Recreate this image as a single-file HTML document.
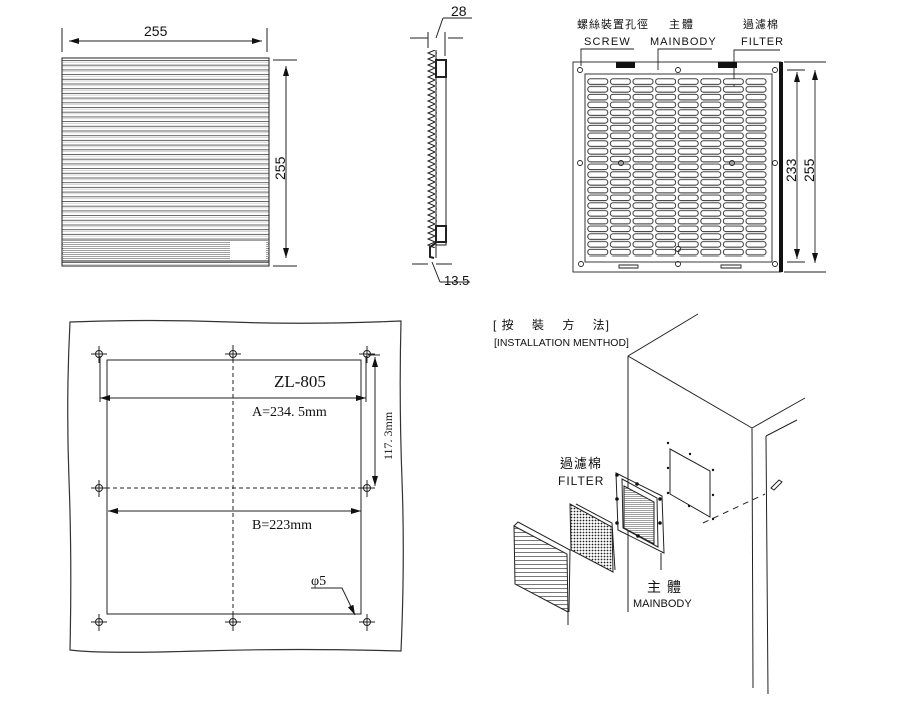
<!DOCTYPE html>
<html><head><meta charset="utf-8"><style>
html,body{margin:0;padding:0;background:#fff;}
svg{display:block;}
text{font-family:"Liberation Sans","Noto Sans CJK TC",sans-serif;fill:#111;}
.s{font-family:"Liberation Serif","Noto Serif CJK SC",serif;}
</style></head><body>
<svg width="904" height="717" viewBox="0 0 904 717" xmlns="http://www.w3.org/2000/svg">
<defs>
<pattern id="stripe" x="0" y="60" width="10" height="4.7" patternUnits="userSpaceOnUse">
<rect width="10" height="4.7" fill="#fff"/><line x1="0" y1="0.5" x2="10" y2="0.5" stroke="#555" stroke-width="0.9"/><line x1="0" y1="2.2" x2="10" y2="2.2" stroke="#bbb" stroke-width="0.6"/></pattern>
<pattern id="fine" x="0" y="0" width="10" height="2" patternUnits="userSpaceOnUse">
<rect width="10" height="2" fill="#fff"/><line x1="0" y1="0.5" x2="10" y2="0.5" stroke="#777" stroke-width="0.7"/></pattern>
<pattern id="grl" x="0" y="0" width="10" height="4" patternUnits="userSpaceOnUse">
<rect width="10" height="4" fill="#fff"/><line x1="0" y1="0.5" x2="10" y2="0.5" stroke="#555" stroke-width="0.8"/></pattern>
<pattern id="slot" x="587" y="78" width="22.6" height="7.75" patternUnits="userSpaceOnUse">
<rect x="0.8" y="0.8" width="20" height="5.6" rx="2.5" fill="#fff" stroke="#222" stroke-width="0.9"/></pattern>
<pattern id="zig" x="427" y="50" width="9" height="6" patternUnits="userSpaceOnUse">
<path d="M8,0 L1,3 L8,6" fill="none" stroke="#222" stroke-width="1"/></pattern>
<pattern id="dots" width="3" height="3" patternUnits="userSpaceOnUse"><rect width="3" height="3" fill="#fff"/><circle cx="1.5" cy="1.5" r="0.9" fill="#222"/></pattern>
<marker id="ar" viewBox="0 0 10 6" refX="10" refY="3" markerWidth="10" markerHeight="6" orient="auto-start-reverse" markerUnits="userSpaceOnUse"><path d="M0,0 L10,3 L0,6z" fill="#111"/></marker>
<g id="h" stroke="#222" fill="none" stroke-width="1"><circle r="3.5"/><line x1="-8" y1="0" x2="8" y2="0"/><line x1="0" y1="-8" x2="0" y2="9"/></g>
</defs>

<!-- TOP LEFT front view -->
<g stroke="#222" fill="none" stroke-width="1">
<line x1="62" y1="28" x2="62" y2="52"/><line x1="267" y1="28" x2="267" y2="52"/>
<line x1="69" y1="41" x2="262" y2="41" marker-start="url(#ar)" marker-end="url(#ar)"/>
<line x1="273" y1="60" x2="297" y2="60"/><line x1="273" y1="266" x2="297" y2="266"/>
<line x1="286" y1="66" x2="286" y2="258" marker-start="url(#ar)" marker-end="url(#ar)"/>
</g>
<rect x="62" y="58" width="207" height="208" fill="url(#stripe)" stroke="#222"/>
<rect x="63" y="240" width="205" height="20" fill="url(#fine)"/>
<rect x="230" y="241" width="36" height="18" fill="#fff"/>
<line x1="62" y1="261" x2="269" y2="261" stroke="#222"/>
<text x="144" y="36" font-size="14">255</text>
<text transform="translate(285,180) rotate(-90)" font-size="14">255</text>

<!-- side view -->
<g stroke="#222" fill="none" stroke-width="1">
<line x1="410" y1="38" x2="428" y2="38"/><line x1="448" y1="38" x2="463" y2="38"/>
<line x1="428" y1="32" x2="428" y2="48"/><line x1="445" y1="32" x2="445" y2="56"/>
<line x1="436" y1="38" x2="443" y2="18"/><line x1="443" y1="18" x2="472" y2="18"/>
<rect x="427" y="50" width="10" height="198" fill="url(#zig)" stroke="none"/>
<line x1="436" y1="50" x2="436" y2="258"/>
<rect x="436" y="60" width="10" height="185"/>
<rect x="436" y="60" width="10" height="17" stroke-width="2"/>
<rect x="436" y="226" width="10" height="16" stroke-width="2"/>
<path d="M436,243 L430,247 L430,257 L434,258" stroke-width="2"/>
<line x1="412" y1="264" x2="428" y2="264"/><line x1="436" y1="264" x2="452" y2="264"/>
<line x1="432" y1="262" x2="440" y2="282"/><line x1="440" y1="282" x2="470" y2="282"/>
</g>
<text x="451" y="16" font-size="14">28</text>
<text x="444" y="285" font-size="13">13.5</text>

<!-- TOP RIGHT -->
<text x="577" y="28" font-size="11" letter-spacing="1">螺絲裝置孔徑</text>
<text x="669" y="28" font-size="11" letter-spacing="2">主體</text>
<text x="743" y="28" font-size="11" letter-spacing="1">過濾棉</text>
<text x="584" y="45" font-size="11" letter-spacing="1.2">SCREW</text>
<text x="650" y="45" font-size="11" letter-spacing="1">MAINBODY</text>
<text x="741" y="45" font-size="11" letter-spacing="1">FILTER</text>
<g stroke="#222" fill="none" stroke-width="0.9">
<path d="M634,49 L581,49 L581,66"/><path d="M712,49 L658,49 L658,70"/><path d="M780,50 L734,50 L734,92"/>
<rect x="573" y="62" width="208" height="210"/>
<rect x="585" y="74" width="187" height="188"/>
<rect x="587" y="78" width="181" height="179" fill="url(#slot)" stroke="none"/>
<circle cx="580" cy="70" r="2.5"/><circle cx="678" cy="70" r="2.5"/><circle cx="775" cy="70" r="2.5"/>
<circle cx="580" cy="163" r="2.5"/><circle cx="775" cy="163" r="2.5"/>
<circle cx="581" cy="264" r="2.5"/><circle cx="678" cy="264" r="2.5"/><circle cx="775" cy="264" r="2.5"/>
<circle cx="621" cy="163" r="2.5"/><circle cx="732" cy="163" r="2.5"/><circle cx="678" cy="249" r="2.5"/>
<path d="M619,268 L619,265 L638,265 L638,268 Z"/><path d="M721,268 L721,265 L741,265 L741,268 Z"/>
<line x1="784" y1="62" x2="826" y2="62"/><line x1="784" y1="272" x2="826" y2="272"/>
<line x1="787" y1="70" x2="805" y2="70"/><line x1="787" y1="262" x2="805" y2="262"/>
<line x1="797" y1="72" x2="797" y2="259" marker-start="url(#ar)" marker-end="url(#ar)"/>
<line x1="815" y1="70" x2="815" y2="263" marker-start="url(#ar)" marker-end="url(#ar)"/>
</g>
<rect x="616" y="62" width="19" height="6" fill="#111"/><rect x="718" y="62" width="19" height="6" fill="#111"/>
<rect x="779" y="62" width="4" height="210" fill="#111"/>
<text transform="translate(796,182) rotate(-90)" font-size="14">233</text>
<text transform="translate(814,182) rotate(-90)" font-size="14">255</text>

<!-- BOTTOM LEFT -->
<path d="M70,322 Q150,319 230,322 T401,321 Q399,400 402,480 T401,651 Q300,648 200,651 T70,650 Q72,560 69,480 T70,322 Z" fill="none" stroke="#333" stroke-width="1.2"/>
<g stroke="#222" fill="none" stroke-width="1">
<rect x="107" y="360" width="254" height="254"/>
<line x1="233" y1="345" x2="233" y2="630" stroke-dasharray="4,3"/>
<line x1="92" y1="488" x2="374" y2="488" stroke-dasharray="4,3"/>
<line x1="100" y1="356" x2="100" y2="402"/><line x1="366" y1="356" x2="366" y2="402"/>
<line x1="100" y1="398" x2="366" y2="398" marker-start="url(#ar)" marker-end="url(#ar)"/>
<line x1="108" y1="511" x2="361" y2="511" marker-start="url(#ar)" marker-end="url(#ar)"/>
<line x1="368" y1="355" x2="380" y2="355"/>
<line x1="375" y1="357" x2="375" y2="486" marker-start="url(#ar)" marker-end="url(#ar)"/>
<path d="M311,588 L342,588 L355,615" marker-end="url(#ar)"/>
</g>
<use href="#h" x="99" y="354"/><use href="#h" x="233" y="354"/><use href="#h" x="367" y="354"/>
<use href="#h" x="99" y="488"/><use href="#h" x="367" y="488"/>
<use href="#h" x="99" y="622"/><use href="#h" x="233" y="622"/><use href="#h" x="367" y="622"/>
<text class="s" x="274" y="387" font-size="17">ZL-805</text>
<text class="s" x="252" y="416" font-size="14">A=234. 5mm</text>
<text class="s" x="252" y="529" font-size="14">B=223mm</text>
<text class="s" transform="translate(392,460) rotate(-90)" font-size="12">117. 3mm</text>
<text class="s" x="311" y="585" font-size="14">φ5</text>

<!-- BOTTOM RIGHT -->
<text x="493" y="329" font-size="12" letter-spacing="1">[ 按　 裝　 方　 法]</text>
<text x="494" y="346" font-size="10.5">[INSTALLATION MENTHOD]</text>
<g stroke="#222" fill="none" stroke-width="1">
<line x1="628" y1="356" x2="698" y2="314"/>
<line x1="628" y1="356" x2="628" y2="612"/>
<line x1="628" y1="356" x2="752" y2="428"/>
<line x1="752" y1="428" x2="805" y2="398"/>
<line x1="752" y1="428" x2="753" y2="688"/>
<line x1="766" y1="436" x2="797" y2="420"/>
<line x1="766" y1="436" x2="768" y2="694"/>
<path d="M670,449 L710,471 L710,517 L670,494 Z"/>
<line x1="703" y1="523" x2="765" y2="494" stroke-dasharray="6,5"/>
<path d="M771,488 L779,480 L782,482 L774,490 Z"/>
<path d="M616,473 L662,496 L664,553 L618,530 Z"/>
<path d="M622,479 L657,498 L658,547 L623,528 Z"/>
<path d="M624,486 L654,502 L654,544 L624,528 Z" fill="url(#fine)"/>
<line x1="661" y1="553" x2="661" y2="570"/>
<path d="M570,504 L612,527 L613,572 L571,550 Z" fill="url(#dots)"/>
<path d="M576,504 L612,523 L615,570" />
<path d="M514,526 L567,554 L568,612 L515,584 Z" fill="url(#grl)"/>
<path d="M514,526 L518,522 L570,550 L569,612"/>
<line x1="568" y1="612" x2="568" y2="625"/>
</g>
<g fill="#111"><circle cx="617" cy="475" r="1.8"/><circle cx="617" cy="499" r="1.8"/><circle cx="617" cy="523" r="1.8"/><circle cx="637" cy="484" r="1.8"/><circle cx="660" cy="499" r="1.8"/><circle cx="660" cy="523" r="1.8"/><circle cx="638" cy="536" r="1.8"/>
<circle cx="668" cy="443" r="1.2"/><circle cx="690" cy="454" r="1.2"/><circle cx="668" cy="468" r="1.2"/><circle cx="713" cy="470" r="1.2"/><circle cx="668" cy="493" r="1.2"/><circle cx="713" cy="495" r="1.2"/><circle cx="689" cy="506" r="1.2"/><circle cx="713" cy="519" r="1.2"/></g>
<text x="560" y="468" font-size="13" letter-spacing="1">過濾棉</text>
<text x="558" y="485" font-size="12" letter-spacing="1">FILTER</text>
<text x="647" y="592" font-size="14" letter-spacing="6">主體</text>
<text x="633" y="607" font-size="11">MAINBODY</text>
</svg>
</body></html>
